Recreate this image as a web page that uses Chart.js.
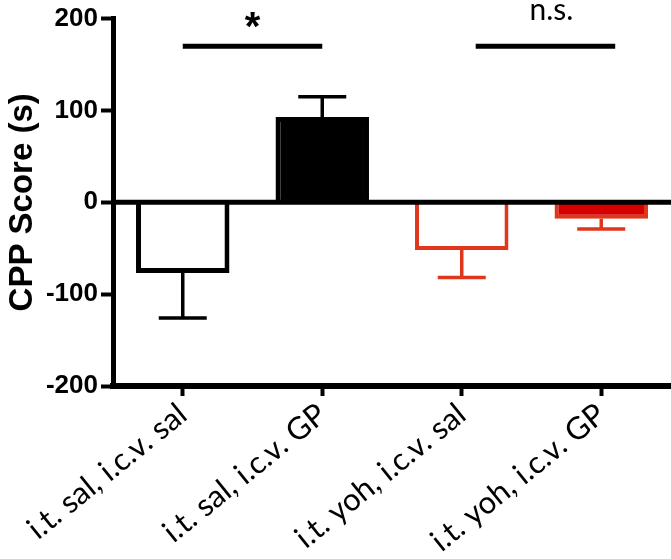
<!DOCTYPE html>
<html>
<head>
<meta charset="utf-8">
<script src="https://cdn.jsdelivr.net/npm/chart.js@4.4.1/dist/chart.umd.min.js"></script>
<style>
  html, body { margin: 0; padding: 0; background: #fff; }
  #wrap { width: 671px; height: 559px; position: relative; }
</style>
</head>
<body>
<div id="wrap"><canvas id="cppChart"></canvas></div>
<script>
// CPP score per treatment group (mean +/- SEM, seconds)
const groups = ['i.t. sal, i.c.v. sal', 'i.t. sal, i.c.v. GP', 'i.t. yoh, i.c.v. sal', 'i.t. yoh, i.c.v. GP'];
const meanScore = [-77, 93, -52, -18];
const semScore = [49, 22, 30, 11];
const yTicks = [-200, -100, 0, 100, 200];

// significance brackets (category index from/to, height in score units)
const sigLabels = ['*', 'n.s.'];
const sigFrom = [0, 2.1];
const sigTo = [1, 3.1];
const sigLevel = [170, 170];

const BLACK = '#000000';
const RED = '#e0361c';
const fillColors = ['#ffffff', BLACK, '#ffffff', '#d40000'];
const edgeColors = [BLACK, BLACK, RED, RED];

const overlayPlugin = {
    id: 'overlay',
    afterDatasetsDraw(chart) {
        const ctx = chart.ctx;
        const area = chart.chartArea;
        const x = chart.scales.x;
        const y = chart.scales.y;
        const meta = chart.getDatasetMeta(0);

        // zero line
        const y0 = y.getPixelForValue(0);
        ctx.save();
        ctx.strokeStyle = BLACK;
        ctx.lineWidth = 5;
        ctx.beginPath();
        ctx.moveTo(area.left, y0);
        ctx.lineTo(area.right, y0);
        ctx.stroke();

        // error bars, pointing away from zero
        meta.data.forEach((bar, i) => {
            const v = meanScore[i];
            const tip = y.getPixelForValue(v + Math.sign(v) * semScore[i]);
            ctx.strokeStyle = edgeColors[i];
            ctx.lineWidth = 3.5;
            ctx.beginPath();
            ctx.moveTo(bar.x, bar.y);
            ctx.lineTo(bar.x, tip);
            ctx.moveTo(bar.x - 24, tip);
            ctx.lineTo(bar.x + 24, tip);
            ctx.stroke();
        });

        // significance brackets
        sigLabels.forEach((txt, i) => {
            const x1 = x.getPixelForValue(sigFrom[i]);
            const x2 = x.getPixelForValue(sigTo[i]);
            const ly = y.getPixelForValue(sigLevel[i]);
            ctx.strokeStyle = BLACK;
            ctx.lineWidth = 5;
            ctx.beginPath();
            ctx.moveTo(x1, ly);
            ctx.lineTo(x2, ly);
            ctx.stroke();
            ctx.fillStyle = BLACK;
            ctx.textAlign = 'center';
            ctx.textBaseline = 'alphabetic';
            if (txt === '*') {
                ctx.font = 'bold 40px "Liberation Sans"';
                ctx.fillText(txt, (x1 + x2) / 2, ly - 6);
            } else {
                ctx.font = '30px Lato';
                ctx.fillText(txt, (x1 + x2) / 2 + 6, ly - 26);
            }
        });
        ctx.restore();
    }
};

new Chart(document.getElementById('cppChart').getContext('2d'), {
    type: 'bar',
    data: {
        labels: groups,
        datasets: [{
            data: meanScore,
            backgroundColor: fillColors,
            borderColor: edgeColors,
            borderWidth: [5, 5, 4, 4],
            borderSkipped: 'start',
            barPercentage: 0.67,
            categoryPercentage: 1
        }]
    },
    options: {
        responsive: true,
        maintainAspectRatio: false,
        animation: false,
        layout: { padding: { top: 14, right: 0, left: 0, bottom: 0 } },
        plugins: {
            legend: { display: false },
            tooltip: { enabled: false }
        },
        scales: {
            x: {
                grid: {
                    drawOnChartArea: false,
                    offset: false,
                    tickLength: 10,
                    tickWidth: 4,
                    color: BLACK
                },
                border: { width: 6, color: BLACK },
                ticks: {
                    minRotation: 39,
                    maxRotation: 39,
                    padding: 0,
                    color: BLACK,
                    font: { family: 'Lato', size: 31 }
                },
                afterFit(scale) {
                    scale.height = 173;
                    scale.paddingLeft = 0;
                    scale.paddingRight = 0;
                }
            },
            y: {
                min: -200,
                max: 200,
                afterBuildTicks(scale) {
                    scale.ticks = yTicks.map(v => ({ value: v }));
                },
                grid: {
                    drawOnChartArea: false,
                    tickLength: 12,
                    tickWidth: 4,
                    color: BLACK
                },
                border: { width: 5, color: BLACK },
                ticks: {
                    padding: 3,
                    color: BLACK,
                    font: { family: 'Liberation Sans', size: 26, weight: 'bold' }
                },
                title: {
                    display: true,
                    text: 'CPP Score (s)',
                    color: BLACK,
                    padding: { top: 3, bottom: 0 },
                    font: { family: 'Liberation Sans', size: 33, weight: 'bold' }
                },
                afterFit(scale) {
                    scale.width = 113;
                }
            }
        }
    },
    plugins: [overlayPlugin]
});
</script>
</body>
</html>
